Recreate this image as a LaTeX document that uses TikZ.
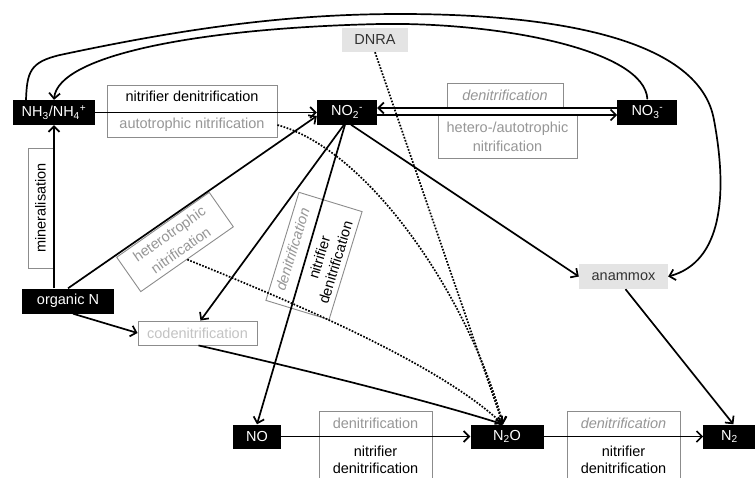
\documentclass[tikz,border=0pt]{standalone}
\usepackage{fontspec}
\setmainfont{Liberation Sans}
\usepackage{xcolor}
\usetikzlibrary{arrows.meta,positioning,calc}
\definecolor{boxgrey}{RGB}{140,140,140}
\definecolor{txtgrey}{RGB}{150,150,150}
\definecolor{palegrey}{RGB}{195,195,195}
\definecolor{fillgrey}{RGB}{228,228,228}
\definecolor{darktxt}{RGB}{50,50,50}

\begin{document}
\begin{tikzpicture}[x=1pt, y=-1pt, >={Straight Barb[length=5.5pt,width=11pt]},
      font=\fontsize{14.5}{17}\selectfont,
      species/.style={fill=black, text=white, minimum height=25pt, inner sep=0pt},
      grbox/.style={fill=fillgrey, text=darktxt, minimum height=25pt, inner sep=0pt},
      procbox/.style={draw=boxgrey, line width=0.9pt, align=center, inner sep=0pt},
      arr/.style={->, line width=1.7pt},
      dotarr/.style={->, line width=1.7pt, dash pattern=on 1.7pt off 1.5pt}
    ]
    \useasboundingbox (0,0) rectangle (755,477);
    \clip (0,0) rectangle (755,477);
    \fill[white] (0,0) rectangle (755,477);

    % N species
    \node[species, minimum width=82pt] (nh) at (54,112.5)
          {NH\textsubscript{3}/NH\textsubscript{4}\textsuperscript{+}};
    \node[species, minimum width=60pt] (no2) at (347,112)
          {NO\textsubscript{2}\textsuperscript{-}};
    \node[species, minimum width=60pt, right=240pt of no2] (no3)
          {NO\textsubscript{3}\textsuperscript{-}};
    \node[species, minimum width=92pt] (orgn) at (68,301) {organic N};
    \node[species, minimum width=48pt, minimum height=24pt] (no) at (257,436.5) {NO};
    \node[species, minimum width=73pt, minimum height=24pt] (ntwoo) at (507,436.5)
          {N\textsubscript{2}O};
    \node[species, minimum width=52pt, minimum height=24pt, right=159.5pt of ntwoo] (ntwo)
          {N\textsubscript{2}};
    \node[grbox, minimum width=66pt, minimum height=24pt] (dnra) at (375,40) {DNRA};
    \node[grbox, minimum width=89pt] (anammox) at (623.5,276.5) {anammox};

    % process labels
    \node[procbox, minimum width=170pt, minimum height=52pt] (nitden) at (192,111)
          {nitrifier denitrification\\[10pt]\textcolor{txtgrey}{autotrophic nitrification}};
    \node[procbox, minimum width=116pt, minimum height=25pt, text=txtgrey] (denittop)
          at (505,95.5) {\textit{denitrification}};
    \node[procbox, minimum width=139pt, minimum height=43pt, text=txtgrey] (hetauto)
          at (507.5,136.5) {hetero-/autotrophic\\[2pt]nitrification};
    \node[procbox, minimum width=120pt, minimum height=25pt, rotate=90] (miner)
          at (40.5,208) {mineralisation};
    \node[procbox, minimum width=113pt, minimum height=42pt, rotate=35, text=txtgrey] (hetero)
          at (175,242) {heterotrophic\\[3pt]nitrification};
    \node[procbox, minimum width=113pt, minimum height=66pt, rotate=73] (denitrot)
          at (314,256) {\textcolor{txtgrey}{\textit{denitrification}}\\[11pt]nitrifier\\denitrification};
    \node[procbox, minimum width=119pt, minimum height=24pt, text=palegrey] (codenit)
          at (197.5,333) {codenitrification};
    \node[procbox, minimum width=113pt, inner ysep=6.5pt, anchor=north] (denitleft)
          at (375.5,411) {\textcolor{txtgrey}{denitrification}\\[11pt]nitrifier\\denitrification};
    \node[procbox, minimum width=113pt, inner ysep=6.5pt, anchor=north] (denitright)
          at (623.5,411) {\textcolor{txtgrey}{\textit{denitrification}}\\[11pt]nitrifier\\denitrification};

    % solid pathways
    \draw[arr] (nh.east) -- (nh.east -| no2.west);
    \draw[arr] ([yshift=4pt]no3.west) -- ([yshift=4pt]no2.east);
    \draw[arr] ([yshift=-3pt]no2.east) -- ([yshift=-3pt]no3.west);
    \draw[arr] (orgn.north -| nh) -- (nh.south);
    \draw[arr] (orgn.north) -- ([yshift=-4pt]no2.west);
    \draw[arr] ([xshift=5pt]orgn.south) -- (codenit.west);
    \draw[arr] ([xshift=-3pt]no2.south) -- ([xshift=3pt]codenit.north);
    \draw[arr] ([xshift=-2pt]no2.south) -- (no.north);
    \draw[arr] ([xshift=4pt]no2.south) -- (anammox.west);
    \draw[arr] ([xshift=2pt]anammox.south) -- ([xshift=4pt]ntwo.north);
    \draw[arr] (no) -- (ntwoo);
    \draw[arr] (ntwoo) -- (ntwo);
    \draw[arr] ([xshift=1pt]codenit.south) .. controls (280,364) and (420,398)
          .. ([xshift=-4pt]ntwoo.north);

    % long loops over the top
    \draw[arr] ([xshift=-28pt]nh.north) .. controls (27,72) and (30,62) .. (60,55)
          .. controls (200,25) and (300,14) .. (400,14)
          .. controls (560,14) and (700,40) .. (714,120)
          .. controls (728,195) and (722,262) .. (anammox.east);
    \draw[arr] (no3.north) .. controls (645,50) and (500,22) .. (380,24)
          .. controls (200,28) and (58,55) .. (nh.north);

    % dotted pathways to N2O
    \draw[dotarr] (dnra.south) -- ([xshift=-4pt]ntwoo.north);
    \draw[dotarr] ([yshift=-14pt]nitden.east) .. controls (370,150) and (470,300)
          .. ([xshift=-4pt]ntwoo.north);
    \draw[dotarr] (hetero.south) .. controls (300,305) and (440,365)
          .. ([xshift=-4pt]ntwoo.north);
\end{tikzpicture}
\end{document}
